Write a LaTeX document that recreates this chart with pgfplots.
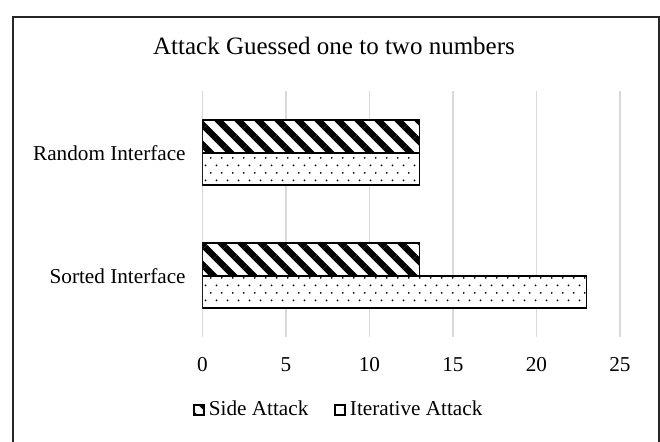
\documentclass[border=0pt]{standalone}
\usepackage{fontspec}
\setmainfont{Liberation Serif}
\usepackage{pgfplots}
\pgfplotsset{compat=1.18}
\usetikzlibrary{patterns,patterns.meta}

% staggered dot fill
\pgfdeclarepattern{
  name=staggereddots,
  type=uncolored,
  bottom left={\pgfpoint{0pt}{0pt}},
  top right={\pgfpoint{5.35pt}{7.7pt}},
  tile size={\pgfpoint{5.35pt}{7.7pt}},
  code={
    \pgfpathcircle{\pgfpoint{1.3pt}{1.9pt}}{0.5pt}
    \pgfpathcircle{\pgfpoint{3.975pt}{5.75pt}}{0.5pt}
    \pgfusepath{fill}
  }
}

\newcommand{\lblfont}{\fontsize{10.6}{12.5}\selectfont}
\newcommand{\ttlfont}{\fontsize{12.5}{15}\selectfont}

\begin{document}
\begin{tikzpicture}
  \path[use as bounding box] (0,0) rectangle (330pt,221pt);
  % chart frame
  \draw[black!85, line width=0.75pt] (6.5pt,-3pt) -- (6.5pt,212.5pt) -- (329.5pt,212.5pt) -- (329.5pt,-3pt);
  \node[anchor=base, font=\ttlfont] at (167pt,193.5pt) {Attack Guessed one to two numbers};

  \begin{axis}[
    at={(101.25pt,52.4pt)}, anchor=south west,
    width=208.75pt, height=123pt, scale only axis,
    xbar,
    xmin=0, xmax=25, ymin=-0.5, ymax=1.5,
    xtick={0,5,10,15,20,25},
    ytick={0,1},
    yticklabels={Sorted Interface, Random Interface},
    /pgf/number format/assume math mode=true,
    axis line style={draw=none},
    tick style={draw=none},
    major tick length=0pt,
    xmajorgrids,
    grid style={color=black!15, line width=0.75pt},
    tick label style={font=\lblfont},
    yticklabel style={inner sep=0pt, anchor=east, xshift=-8.25pt},
    xticklabel style={inner sep=0pt, anchor=north, yshift=-10pt},
    bar width=0.2626,
    legend columns=2,
    legend style={
      at={(0.329,-0.296)}, anchor=center,
      draw=none, fill=none, font=\lblfont,
      /tikz/every even column/.append style={column sep=11pt},
    },
    legend cell align=left,
    legend image code/.code={\draw[#1, line width=0.6pt] (0pt,-2.6pt) rectangle (5.2pt,2.6pt);},
  ]
    \addplot[bar shift=0.1313, draw=black, line width=0.9pt,
      preaction={fill=white},
      pattern={Lines[angle=-45,distance=7.07pt,line width=3.2pt]}]
      coordinates {(13,0) (13,1)};
    \addlegendentry{Side Attack}
    \addplot[bar shift=-0.1313, draw=black, line width=0.9pt,
      preaction={fill=white},
      pattern=staggereddots]
      coordinates {(23,0) (13,1)};
    \addlegendentry{Iterative Attack}
  \end{axis}
\end{tikzpicture}
\end{document}
